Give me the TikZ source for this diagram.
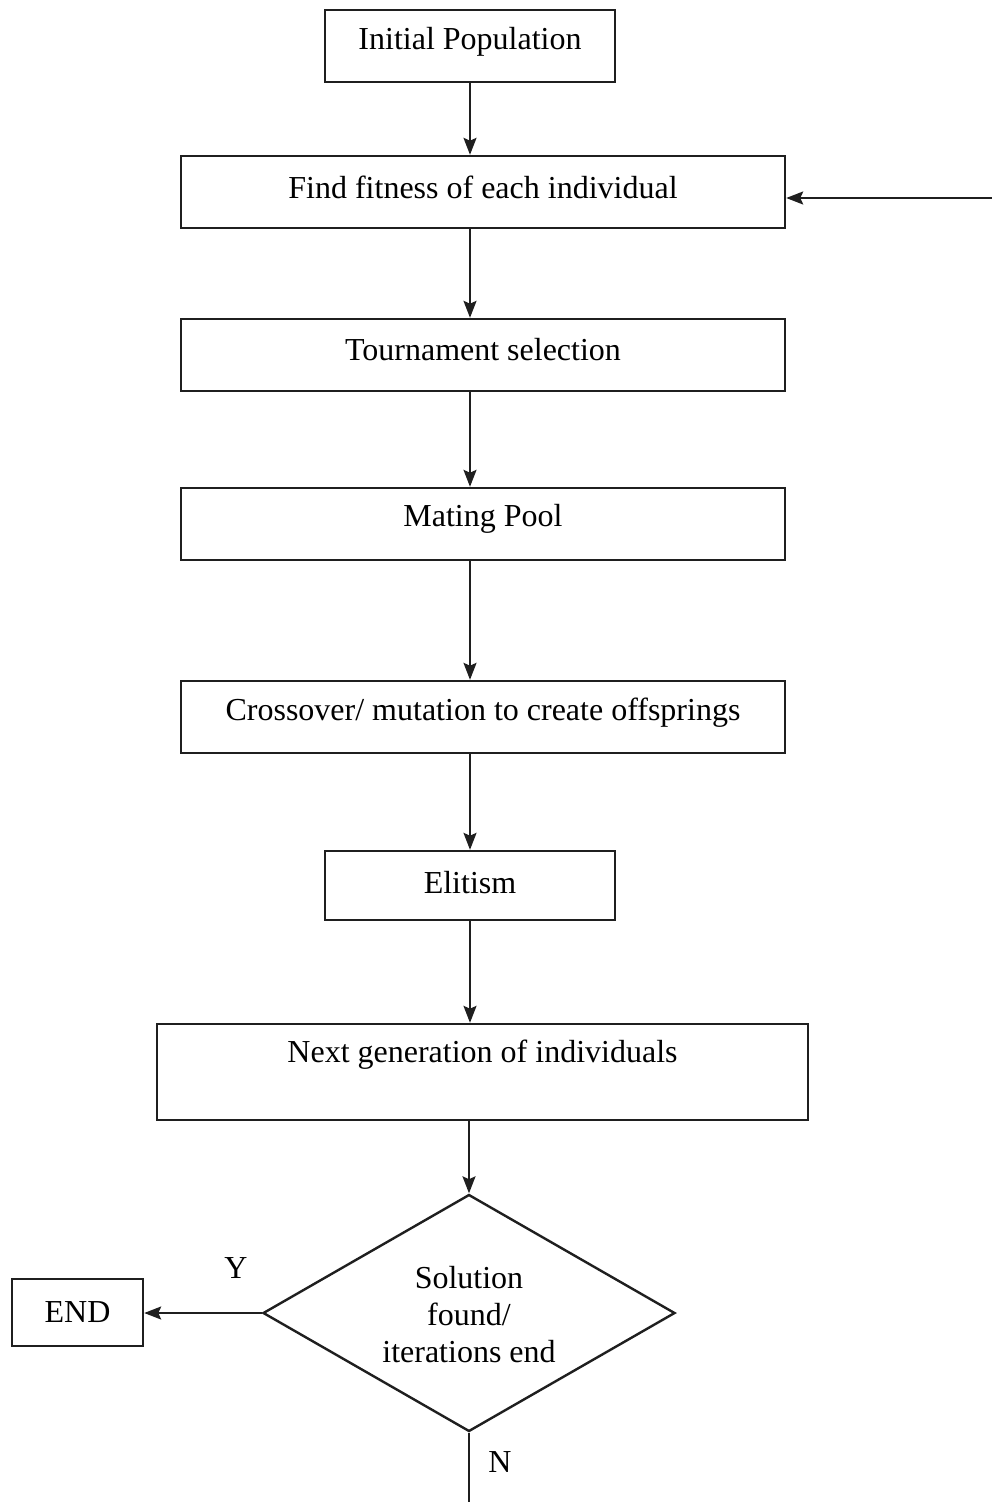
\documentclass[tikz,border=0pt]{standalone}
\usepackage{fontspec}
\setmainfont{Liberation Serif}
\usetikzlibrary{shapes.geometric,arrows.meta}
\begin{document}
\begin{tikzpicture}[x=1pt,y=-1pt,
  box/.style={draw=black!88,line width=2.4pt,inner sep=0pt,font=\fontsize{32}{37}\selectfont},
  txt/.style={inner sep=0pt,font=\fontsize{32}{37}\selectfont},
  arr/.style={draw=black!88,line width=2.2pt,-{Stealth[length=17pt,width=13pt,inset=3pt]}},
  ln/.style={draw=black!88,line width=2.2pt}]
\useasboundingbox (0,0) rectangle (992,1502);
\node[box,minimum width=290pt,minimum height=72pt] (init) at (470,46) {};
\node[txt] (tinit) at (470,42) {Initial Population};
\node[box,minimum width=604pt,minimum height=72pt] (fit) at (483,192) {};
\node[txt] (tfit) at (483,187) {Find fitness of each individual};
\node[box,minimum width=604pt,minimum height=72pt] (tour) at (483,355) {};
\node[txt] (ttour) at (483,350) {Tournament selection};
\node[box,minimum width=604pt,minimum height=72pt] (mate) at (483,524) {};
\node[txt] (tmate) at (483,519) {Mating Pool};
\node[box,minimum width=604pt,minimum height=72pt] (cross) at (483,717) {};
\node[txt] (tcross) at (483,713) {Crossover/ mutation to create offsprings};
\node[box,minimum width=290pt,minimum height=69pt] (elit) at (470,885.5) {};
\node[txt] (telit) at (470,883) {Elitism};
\node[box,minimum width=651pt,minimum height=96pt] (next) at (482.5,1072) {};
\node[txt] (tnext) at (482.5,1055) {Next generation of individuals};
\node[box,diamond,aspect=1.738,minimum width=412pt,minimum height=237pt,align=center] (dec) at (469,1313) {};
\node[txt,align=center] (tdec) at (469,1315) {Solution\\found/\\iterations end};
\node[box,minimum width=131pt,minimum height=67pt] (end) at (77.5,1312.5) {END};
\node[txt] (ly) at (236,1268) {Y};
\node[txt] (ln) at (500,1462) {N};
\coordinate (fb) at (992,198);
\coordinate (bot) at (469,1502);
\draw[arr] (init.south) -- (init.south |- fit.north);
\draw[arr] (fit.south -| init.south) -- (tour.north -| init.south);
\draw[arr] (tour.south -| init.south) -- (mate.north -| init.south);
\draw[arr] (mate.south -| init.south) -- (cross.north -| init.south);
\draw[arr] (cross.south -| init.south) -- (elit.north);
\draw[arr] (elit.south) -- (elit.south |- next.north);
\draw[arr] (next.south -| dec.north) -- (dec.north);
\draw[arr] (dec.west) -- (end.east |- dec.west);
\draw[ln] (dec.south) -- (bot);
\draw[arr] (fb) -- (fb -| fit.east);
\end{tikzpicture}
\end{document}
